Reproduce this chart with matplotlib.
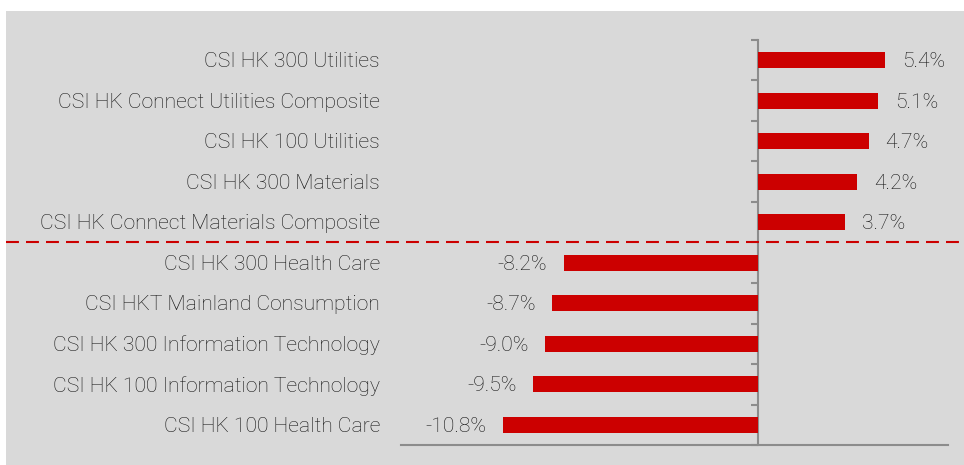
import numpy as np
import matplotlib.pyplot as plt
from matplotlib.patches import Rectangle
from matplotlib.transforms import blended_transform_factory, offset_copy

# index names and returns (%), top to bottom
names = [
    "CSI HK 300 Utilities",
    "CSI HK Connect Utilities Composite",
    "CSI HK 100 Utilities",
    "CSI HK 300 Materials",
    "CSI HK Connect Materials Composite",
    "CSI HK 300 Health Care",
    "CSI HKT Mainland Consumption",
    "CSI HK 300 Information Technology",
    "CSI HK 100 Information Technology",
    "CSI HK 100 Health Care",
]
returns = [5.4, 5.1, 4.7, 4.2, 3.7, -8.2, -8.7, -9.0, -9.5, -10.8]

RED = "#cc0000"
TXT = "#141414"
AXIS = "#8c8c8c"
FS = 15.2

plt.rcParams['font.family'] = ['Roboto', 'DejaVu Sans']
plt.rcParams['font.weight'] = 'light'

fig = plt.figure(figsize=(9.64, 4.65), dpi=100, facecolor="white")
fig.patches.append(Rectangle((6 / 964, 0), 1, 1 - 11 / 465, transform=fig.transFigure,
                             facecolor="#d9d9d9", edgecolor="none", zorder=-10))

ax = fig.add_axes([401 / 964, 1 - 445 / 465, (948 - 401) / 964, (445 - 40) / 465])
ax.set_facecolor("none")

y = np.arange(len(names))
ax.barh(y, returns, height=0.4, color=RED, zorder=3)

ax.set_xlim(-15.1, 8.05)
ax.set_ylim(len(names) - 0.5, -0.5)

# spines
for s in ["top", "right"]:
    ax.spines[s].set_visible(False)
ax.spines["left"].set_position(("data", 0))
ax.spines["left"].set_color(AXIS)
ax.spines["left"].set_linewidth(1.5)
ax.spines["bottom"].set_color(AXIS)
ax.spines["bottom"].set_linewidth(1.5)

ax.set_xticks([])
ax.set_yticks(np.arange(len(names) + 1) - 0.5)
ax.tick_params(axis="y", length=5, width=1.5, color=AXIS, labelleft=False)

# category labels
tr = blended_transform_factory(fig.transFigure, ax.transData)
tr = offset_copy(tr, fig=fig, y=-1, units="points")
for yi, name in zip(y, names):
    ax.text(380 / 964, yi, name, transform=tr, ha="right", va="center",
            fontsize=FS, color=TXT)

# value labels
for yi, v in zip(y, returns):
    if v >= 0:
        ax.annotate(f"{v:.1f}%", (v, yi), xytext=(12, -1), textcoords="offset points",
                    ha="left", va="center", fontsize=FS, color=TXT)
    else:
        ax.annotate(f"{v:.1f}%", (v, yi), xytext=(-12, -1), textcoords="offset points",
                    ha="right", va="center", fontsize=FS, color=TXT)

# dashed separator between gainers and losers
sep = 4.5
ax.axhline(sep, xmin=(6 - 401) / 547, xmax=(964 - 401) / 547, color=RED,
           linewidth=1.5, linestyle=(0, (6.2, 3.4)), clip_on=False, zorder=4)

fig.savefig("out.png", dpi=100)
